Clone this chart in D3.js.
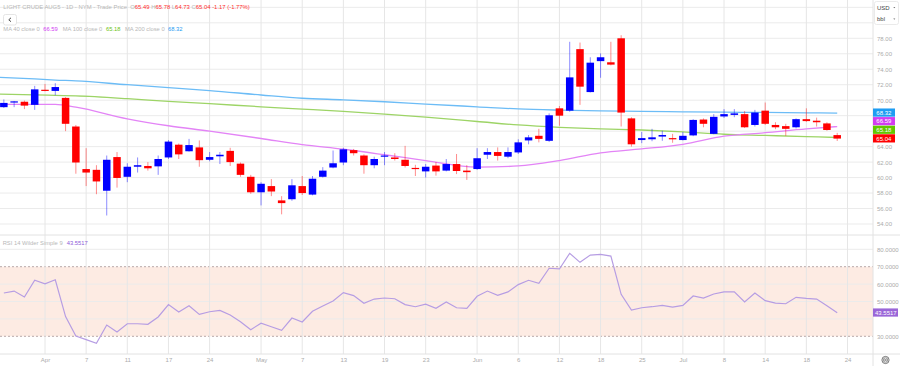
<!DOCTYPE html>
<html>
<head>
<meta charset="utf-8">
<script src="https://cdn.jsdelivr.net/npm/d3@7"></script>
<style>
html,body{margin:0;padding:0;background:#fff;}
svg{display:block;font-family:"Liberation Sans",Arial,sans-serif;}
text{white-space:pre;}
</style>
</head>
<body>
<svg id="chart" width="900" height="366"></svg>
<script>
// ---------------- DATA ----------------
const dates = ["Mar 26","Mar 27","Mar 28","Mar 31","Apr 1","Apr 2","Apr 3","Apr 4","Apr 7","Apr 8","Apr 9","Apr 10","Apr 11","Apr 14","Apr 15","Apr 16","Apr 17","Apr 21","Apr 22","Apr 23","Apr 24","Apr 25","Apr 28","Apr 29","Apr 30","May 1","May 2","May 5","May 6","May 7","May 8","May 9","May 12","May 13","May 14","May 15","May 16","May 19","May 20","May 21","May 22","May 23","May 27","May 28","May 29","May 30","Jun 2","Jun 3","Jun 4","Jun 5","Jun 6","Jun 9","Jun 10","Jun 11","Jun 12","Jun 13","Jun 16","Jun 17","Jun 18","Jun 20","Jun 23","Jun 24","Jun 25","Jun 26","Jun 27","Jun 30","Jul 1","Jul 2","Jul 3","Jul 7","Jul 8","Jul 9","Jul 10","Jul 11","Jul 14","Jul 15","Jul 16","Jul 17","Jul 18","Jul 21","Jul 22","Jul 23"];
const firstIndex = -4; // Mar 26 sits 4 sessions before Apr 1
const open  = [69.1,69.8,69.8,69.4,71.35,71.2,70.3,66.6,61.1,61.0,58.3,62.65,60.1,61.4,61.5,61.45,62.6,64.25,63.4,63.9,62.3,62.75,63.45,61.8,60.1,58.1,58.9,57.05,57.2,58.9,57.8,60.1,61.3,61.95,63.55,62.85,61.6,62.8,62.6,62.3,61.25,60.8,61.55,60.9,61.75,60.9,61.1,62.95,63.3,62.7,63.25,64.8,65.4,64.75,68.95,68.65,76.6,71.05,75.05,74.9,78.0,67.65,64.85,64.95,65.3,65.1,64.85,65.45,67.5,65.65,67.9,68.1,68.2,66.8,68.65,66.8,66.65,66.5,67.55,67.35,67.0,65.49];
const high  = [70.1,69.9,69.95,71.85,72.1,72.2,70.4,66.8,63.8,61.6,62.85,63.3,61.85,62.6,62.0,62.85,64.85,64.4,65.0,64.8,63.3,63.3,63.85,61.95,60.35,59.4,59.8,57.6,59.8,60.2,60.2,61.35,63.5,63.85,63.7,63.0,62.7,63.3,63.15,64.1,61.65,61.75,62.0,62.4,63.05,61.6,63.8,63.8,63.9,63.9,64.95,65.5,66.3,68.3,69.25,77.55,77.45,75.55,76.05,77.55,78.4,67.8,65.9,66.3,66.05,65.65,65.9,67.55,67.65,68.2,68.85,68.85,68.6,68.75,69.7,67.15,66.95,67.65,68.95,67.75,67.15,65.78];
const low   = [69.0,69.1,68.85,68.75,71.15,70.65,66.0,60.5,58.9,57.85,55.1,58.7,59.4,60.65,60.9,60.35,62.4,62.4,63.35,61.4,62.1,61.75,61.5,60.1,57.9,56.4,57.6,55.25,57.0,57.75,57.7,60.0,61.2,61.6,62.85,60.5,61.2,61.6,62.2,61.3,60.2,60.0,60.25,60.8,60.45,59.7,61.0,62.4,62.2,62.5,63.05,64.3,64.55,64.6,66.7,68.5,69.4,71.0,72.9,74.5,66.6,64.0,64.45,64.7,64.75,64.5,64.8,65.35,66.5,65.6,67.7,67.8,66.4,66.6,66.8,66.25,65.4,66.35,67.2,66.6,66.05,64.73];
const close = [69.65,69.85,69.3,71.4,71.2,71.7,66.95,61.95,60.65,59.5,62.3,59.95,61.4,61.6,61.2,62.4,64.65,63.0,64.2,62.25,62.65,62.95,62.0,60.35,58.1,59.2,58.2,56.7,59.0,58.0,59.85,60.9,61.85,63.65,63.15,61.6,62.4,62.85,62.4,61.5,61.15,61.4,60.8,61.75,60.85,60.7,62.5,63.3,62.8,63.3,64.55,65.2,65.0,68.05,68.0,72.95,71.75,74.85,75.55,74.6,68.4,64.3,65.1,65.2,65.5,65.05,65.4,67.45,66.95,67.85,68.2,68.3,66.5,68.4,66.95,66.5,66.3,67.55,67.3,67.15,66.15,65.04];
const rsi   = [54.9,56.0,52.6,62.2,60.2,62.5,41.3,30.2,28.1,26.0,36.5,32.5,37.2,37.2,36.9,41.1,48.2,44.0,47.6,42.6,44.1,44.9,42.2,38.4,33.8,37.5,35.5,33.4,40.5,38.2,44.4,47.4,50.3,55.1,53.4,49.0,51.4,52.0,51.6,48.2,47.0,48.5,46.1,49.7,46.4,46.1,53.0,56.0,53.5,55.5,59.7,62.2,60.4,69.1,68.7,77.7,72.5,76.7,77.1,76.1,54.1,45.1,46.4,47.0,47.8,46.8,47.8,53.2,52.0,54.3,55.5,55.6,49.7,54.9,50.5,49.1,48.7,52.4,51.8,51.4,47.6,43.55];

// moving averages read at sampled sessions (session index, Apr 1 = 0)
const maIdx  = [-5,-1,1,3,8,12,16,21,25,29,33,37,42,46,50,54,58,62,66,70,74,77];
const ma40   = [69.47,69.47,69.45,69.1,67.6,66.7,66.0,65.05,64.25,63.66,62.95,62.2,61.35,61.5,62.2,63.2,63.7,64.3,65.35,65.8,66.3,66.59];
const ma100  = [70.8,70.7,70.62,70.55,70.2,69.85,69.55,69.15,68.85,68.55,68.2,67.8,67.25,66.8,66.5,66.3,66.15,65.9,65.6,65.45,65.3,65.18];
const ma200  = [73.0,72.75,72.6,72.5,72.0,71.62,71.25,70.67,70.25,70.05,69.8,69.5,69.15,68.87,68.72,68.62,68.55,68.5,68.45,68.42,68.37,68.32];

const tickIdx    = [0,4,8,12,16,21,25,29,33,37,42,46,50,54,58,62,66,70,74,78];
const tickLabels = ["Apr","7","11","17","24","May","7","13","19","23","Jun","6","12","18","25","Jul","8","14","18","24"];
const priceTicks = [54,56,58,60,62,64,66,68,70,72,74,76,78];
const priceGrid  = [54,56,58,60,62,64,66,68,70,72,74,76,78,80,82];
const rsiTicks   = [30,40,50,60,70,80];

const header = {name:"LIGHT CRUDE AUG5 - 1D - NYM - Trade Price", o:"65.49", h:"65.78", l:"64.73", c:"65.04", chg:"-1.17 (-1.77%)"};
const rsiName = "RSI 14 Wilder Simple 9";
const rsiLast = "43.5517";
const maNames = ["MA 40 close 0","MA 100 close 0","MA 200 close 0"];

// ---------------- LAYOUT ----------------
const svg = d3.select("#chart");
const plotR = 873, priceBottom = 235, axisY = 354;
const x  = d3.scaleLinear().domain([0,78]).range([45,847.5]);
const yP = d3.scaleLinear().domain([54,78]).range([224,38.3]);
const yR = d3.scaleLinear().domain([30,80]).range([336.3,249.3]);

const C = {up:"#0000ff", down:"#ff0000", grid:"#ebebeb", vgrid:"#e6e6e6", txt:"#b4b4b4",
  ma40:"#e384f6", ma100:"#9dd466", ma200:"#6cbcf6", rsi:"#b69de3",
  tag40:"#d23cf2", tag100:"#62c800", tag200:"#1e9df2", tagRsi:"#9a66d8"};

const defs = svg.append("defs");
defs.append("clipPath").attr("id","cp").append("rect").attr("x",0).attr("y",0).attr("width",plotR).attr("height",priceBottom);
defs.append("clipPath").attr("id","cr").append("rect").attr("x",0).attr("y",priceBottom).attr("width",plotR).attr("height",axisY-priceBottom);

// RSI band
svg.append("rect").attr("x",0).attr("width",plotR)
  .attr("y",yR(70)).attr("height",yR(30)-yR(70)).attr("fill","#fdebe3");

// horizontal grid (price)
svg.append("g").selectAll("line").data(priceGrid).join("line")
  .attr("x1",0).attr("x2",plotR).attr("y1",d=>yP(d)).attr("y2",d=>yP(d))
  .attr("stroke",C.grid).attr("stroke-width",1);
// horizontal grid (rsi)
svg.append("g").selectAll("line").data([40,50,60,80]).join("line")
  .attr("x1",0).attr("x2",plotR).attr("y1",d=>yR(d)).attr("y2",d=>yR(d))
  .attr("stroke",C.grid).attr("stroke-width",1);
svg.append("g").selectAll("line").data([30,70]).join("line")
  .attr("x1",0).attr("x2",plotR).attr("y1",d=>yR(d)).attr("y2",d=>yR(d))
  .attr("stroke","#b8a9a9").attr("stroke-width",1).attr("stroke-dasharray","2,2");
// vertical grid
svg.append("g").selectAll("line").data(tickIdx).join("line")
  .attr("x1",d=>x(d)).attr("x2",d=>x(d)).attr("y1",0).attr("y2",axisY)
  .attr("stroke",C.vgrid).attr("stroke-width",1);

// frame lines
svg.append("line").attr("x1",0).attr("x2",900).attr("y1",priceBottom).attr("y2",priceBottom).attr("stroke","#e2e2e2");
svg.append("line").attr("x1",0).attr("x2",900).attr("y1",axisY).attr("y2",axisY).attr("stroke","#e2e2e2");
svg.append("line").attr("x1",plotR).attr("x2",plotR).attr("y1",0).attr("y2",366).attr("stroke","#e2e2e2");

// ---------------- PRICE PANEL ----------------
const gp = svg.append("g").attr("clip-path","url(#cp)");
const candles = dates.map((d,k)=>({i:k+firstIndex,o:open[k],h:high[k],l:low[k],c:close[k]}));
const line = (xs,ys,sc)=>d3.line().x((d,j)=>x(xs[j])).y(d=>sc(d)).curve(d3.curveMonotoneX);

gp.append("path").datum(ma200).attr("d",line(maIdx,ma200,yP)).attr("fill","none").attr("stroke",C.ma200).attr("stroke-width",1.3);
gp.append("path").datum(ma100).attr("d",line(maIdx,ma100,yP)).attr("fill","none").attr("stroke",C.ma100).attr("stroke-width",1.3);
gp.append("path").datum(ma40).attr("d",line(maIdx,ma40,yP)).attr("fill","none").attr("stroke",C.ma40).attr("stroke-width",1.3);

const cg = gp.append("g").selectAll("g").data(candles).join("g");
cg.append("line").attr("x1",d=>x(d.i)).attr("x2",d=>x(d.i))
  .attr("y1",d=>yP(d.h)).attr("y2",d=>yP(d.l))
  .attr("stroke",d=>d.c>=d.o?C.up:C.down).attr("stroke-opacity",0.45).attr("stroke-width",1);
const bw = 7.5;
cg.append("rect").attr("x",d=>x(d.i)-bw/2).attr("width",bw)
  .attr("y",d=>yP(Math.max(d.o,d.c)))
  .attr("height",d=>Math.max(1.2,Math.abs(yP(d.o)-yP(d.c))))
  .attr("fill",d=>d.c>=d.o?C.up:C.down);

// ---------------- RSI PANEL ----------------
const gr = svg.append("g").attr("clip-path","url(#cr)");
gr.append("path").datum(rsi)
  .attr("d",d3.line().x((d,k)=>x(k+firstIndex)).y(d=>yR(d)))
  .attr("fill","none").attr("stroke",C.rsi).attr("stroke-width",1.2);

// ---------------- LAST VALUE TAG POSITIONS ----------------
const last = a=>a[a.length-1];
const tags = [
  {v:last(ma200), col:C.tag200},
  {v:last(ma40),  col:C.tag40},
  {v:last(ma100), col:C.tag100},
  {v:last(close), col:C.down, anchor:true}
].map(t=>({...t, y:yP(t.v)}));
const th = 8.6;
tags.sort((a,b)=>a.y-b.y);
const ai = tags.findIndex(t=>t.anchor);
for(let k=ai-1;k>=0;k--) tags[k].y = Math.min(tags[k].y, tags[k+1].y-th);
for(let k=ai+1;k<tags.length;k++) tags[k].y = Math.max(tags[k].y, tags[k-1].y+th);
const rl = last(rsi);
const coverGap = 7;
const coveredP = v => tags.some(t=>Math.abs(yP(v)-t.y) < coverGap);
const coveredR = v => Math.abs(yR(v)-yR(rl)) < coverGap;

// ---------------- AXES ----------------
function styleAxis(g){
  g.select(".domain").remove();
  g.selectAll("text").attr("fill","#ababab").style("font-size","6px").style("font-family","'Liberation Sans',Arial,sans-serif");
}
// axis labels hidden behind the value tags are not drawn (as in the reference)
svg.append("g").attr("transform",`translate(${plotR},0)`)
  .call(d3.axisRight(yP).tickValues(priceTicks.filter(v=>!coveredP(v))).tickFormat(d3.format(".2f")).tickSize(0).tickPadding(4))
  .call(styleAxis);
svg.append("g").attr("transform",`translate(${plotR},0)`)
  .call(d3.axisRight(yR).tickValues(rsiTicks.filter(v=>!coveredR(v))).tickFormat(d3.format(".4f")).tickSize(0).tickPadding(4))
  .call(styleAxis);
svg.append("g").attr("transform",`translate(0,${axisY})`)
  .call(d3.axisBottom(x).tickValues(tickIdx).tickFormat((d,j)=>tickLabels[j]).tickSize(0).tickPadding(3.5))
  .call(styleAxis);

// ---------------- LAST VALUE TAGS ----------------
const tg = svg.append("g").selectAll("g").data(tags).join("g");
tg.append("rect").attr("x",plotR).attr("y",d=>d.y-th/2).attr("width",22).attr("height",th-0.4).attr("fill",d=>d.col);
tg.append("text").attr("x",plotR+3.3).attr("y",d=>d.y).attr("dy","0.35em")
  .attr("fill","#fff").style("font-size","6px").text(d=>d3.format(".2f")(d.v));

svg.append("rect").attr("x",plotR).attr("y",yR(rl)-th/2).attr("width",25).attr("height",th-0.4).attr("fill",C.tagRsi);
svg.append("text").attr("x",plotR+2).attr("y",yR(rl)).attr("dy","0.35em").attr("fill","#fff").style("font-size","6px").text(rsiLast);

// ---------------- HEADER / LEGENDS ----------------
const red = "#ff2d2d", gray="#b8b8b8";
const ht = svg.append("text").attr("x",3.3).attr("y",8.8).style("font-size","5.9px").attr("fill",gray);
ht.append("tspan").text(header.name+"  O");
ht.append("tspan").attr("fill",red).text(header.o);
ht.append("tspan").text(" H");
ht.append("tspan").attr("fill",red).text(header.h);
ht.append("tspan").text(" L");
ht.append("tspan").attr("fill",red).text(header.l);
ht.append("tspan").text(" C");
ht.append("tspan").attr("fill",red).text(header.c);
ht.append("tspan").attr("fill",red).text(" "+header.chg);

// back button
svg.append("rect").attr("x",3.5).attr("y",14.5).attr("width",13).attr("height",10.5).attr("rx",2)
  .attr("fill","#fff").attr("stroke","#dedede").attr("stroke-width",0.8);
svg.append("path").attr("d","M11,17.8 L8.8,19.75 L11,21.7").attr("fill","none").attr("stroke","#333").attr("stroke-width",0.9);

// MA legend
const legX = [[3.3,43.3],[62.7,106],[125,168]];
const legV = [last(ma40),last(ma100),last(ma200)];
const legC = [C.tag40,"#6cc414",C.tag200];
maNames.forEach((n,j)=>{
  svg.append("text").attr("x",legX[j][0]).attr("y",31.4).style("font-size","5.8px").attr("fill",gray).text(n);
  svg.append("text").attr("x",legX[j][1]).attr("y",31.4).style("font-size","5.8px").attr("fill",legC[j]).text(d3.format(".2f")(legV[j]));
});

// RSI legend
svg.append("text").attr("x",2.7).attr("y",244.8).style("font-size","5.8px").attr("fill",gray).text(rsiName);
svg.append("text").attr("x",66.7).attr("y",244.8).style("font-size","5.8px").attr("fill","#8e5cd8").text(rsiLast);

// currency / unit selector
svg.append("rect").attr("x",874.5).attr("y",1.5).attr("width",24).attr("height",23).attr("rx",2)
  .attr("fill","#fff").attr("stroke","#e4e4e4").attr("stroke-width",0.8);
[["USD",7.6],["bbl",19.2]].forEach(([t,yy])=>{
  svg.append("text").attr("x",877).attr("y",yy).attr("dy","0.35em").style("font-size","6px").attr("fill","#444").text(t);
  svg.append("path").attr("d",`M893.3,${yy-0.6} L895.3,${yy-0.6} L894.3,${yy+0.6} Z`).attr("fill","#666");
});

// reset icon
const ic = svg.append("g").attr("transform","translate(885.5,360)");
ic.append("circle").attr("r",3.6).attr("fill","none").attr("stroke","#555").attr("stroke-width",0.8);
ic.append("circle").attr("r",2.2).attr("fill","none").attr("stroke","#555").attr("stroke-width",0.6);
ic.append("path").attr("d","M-1.2,-1.2 L1.2,1.2 M1.2,-1.2 L-1.2,1.2").attr("stroke","#555").attr("stroke-width",0.7);
</script>
</body>
</html>
